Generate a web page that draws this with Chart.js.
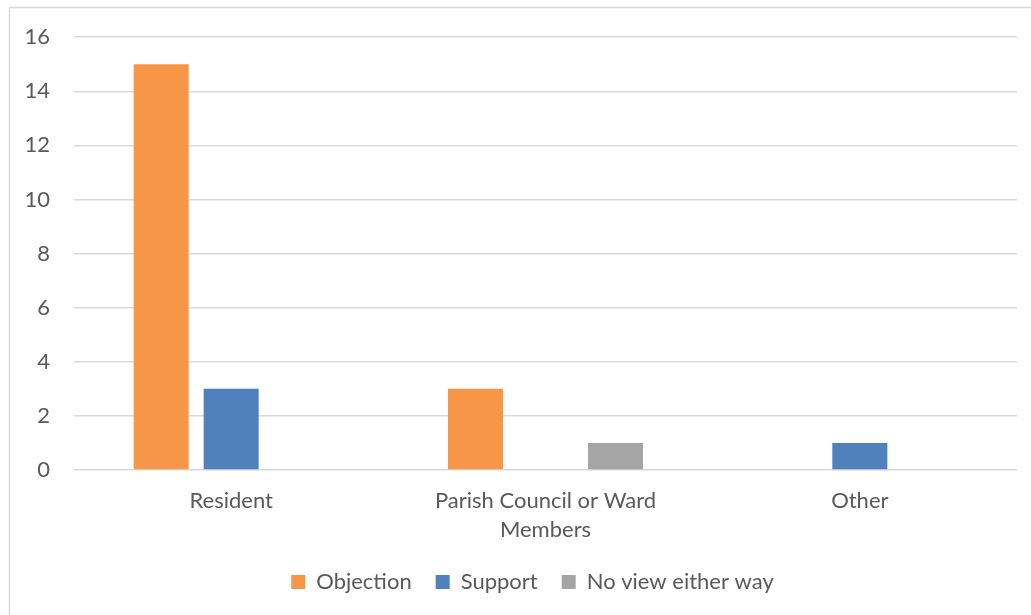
<!DOCTYPE html>
<html>
<head>
<meta charset="utf-8">
<script src="https://cdn.jsdelivr.net/npm/chart.js@4/dist/chart.umd.min.js"></script>
<style>
html,body{margin:0;padding:0;background:#fff;overflow:hidden;}
#wrap{position:absolute;left:0;top:0;width:1031px;height:615px;}
</style>
</head>
<body>
<div id="wrap"><canvas id="c" width="1031" height="615"></canvas></div>
<script>
const categories = ['Resident', ['Parish Council or Ward', 'Members'], 'Other'];
const seriesNames = ['Objection', 'Support', 'No view either way'];
const objection = [15, 3, 0];
const support = [3, 0, 1];
const noView = [0, 1, 0];
const yTicks = [0, 2, 4, 6, 8, 10, 12, 14, 16];

const FONT = 'Lato, "Open Sans", sans-serif';
const TEXT = '#595959';

const borderPlugin = {
  id: 'outerBorder',
  beforeDraw(chart) {
    const ctx = chart.ctx;
    ctx.save();
    ctx.fillStyle = '#fff';
    ctx.fillRect(0, 0, chart.width, chart.height);
    ctx.strokeStyle = '#d9d9d9';
    ctx.lineWidth = 1.5;
    ctx.beginPath();
    ctx.moveTo(9.5, 700);
    ctx.lineTo(9.5, 7.5);
    ctx.lineTo(1100, 7.5);
    ctx.stroke();
    ctx.restore();
  }
};

const legendShift = {
  id: 'legendShift',
  afterLayout(chart) {
    if (chart.legend) { chart.legend.left += 48; }
  }
};

new Chart(document.getElementById('c'), {
  type: 'bar',
  data: {
    labels: categories,
    datasets: [
      { label: seriesNames[0], data: objection, backgroundColor: '#F79646' },
      { label: seriesNames[1], data: support, backgroundColor: '#4F81BD' },
      { label: seriesNames[2], data: noView, backgroundColor: '#A5A5A5' }
    ]
  },
  options: {
    responsive: false,
    animation: false,
    devicePixelRatio: 1,
    layout: { padding: { top: 37, right: 14, left: 0, bottom: 12 } },
    datasets: { bar: { categoryPercentage: 0.668, barPercentage: 0.786 } },
    plugins: {
      legend: {
        position: 'bottom',
        labels: {
          font: { family: FONT, size: 22 },
          color: TEXT,
          boxWidth: 14,
          boxHeight: 14,
          padding: 24
        }
      },
      tooltip: { enabled: false }
    },
    scales: {
      x: {
        grid: { display: false, drawTicks: false },
        border: { display: false },
        ticks: {
          font: { family: FONT, size: 22, lineHeight: 1.3 },
          color: TEXT,
          padding: 17,
          maxRotation: 0,
          autoSkip: false
        },
        afterFit(scale) { scale.height = 77; }
      },
      y: {
        min: 0,
        max: 16,
        afterBuildTicks(scale) { scale.ticks = yTicks.map(v => ({ value: v })); },
        grid: { color: '#d9d9d9', lineWidth: 1.5, drawTicks: false },
        border: { display: false },
        ticks: {
          font: { family: FONT, size: 22 },
          color: TEXT,
          padding: 24
        },
        afterFit(scale) { scale.width = 74; }
      }
    }
  },
  plugins: [borderPlugin, legendShift]
});
</script>
</body>
</html>
